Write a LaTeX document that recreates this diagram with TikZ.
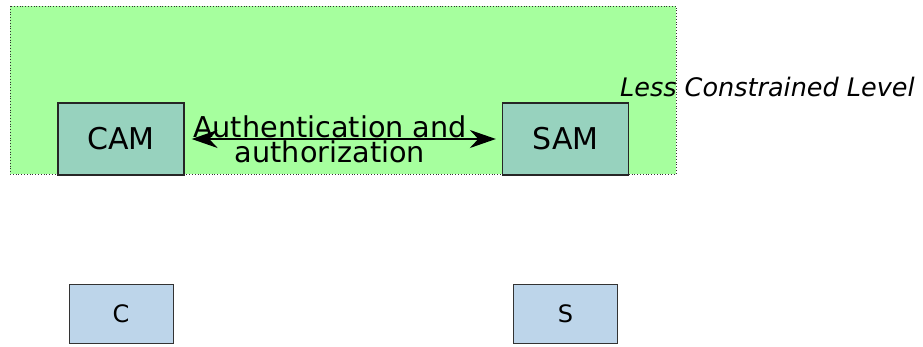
\documentclass[tikz,border=0pt]{standalone}
\usepackage{fontspec}
\setmainfont{DejaVu Sans}
\usetikzlibrary{arrows.meta}
\definecolor{levelgreen}{HTML}{A6FF9E}
\definecolor{amfill}{HTML}{97D2BE}
\definecolor{epfill}{HTML}{BDD5EA}
\begin{document}
\begin{tikzpicture}[x=1pt,y=-1pt,
  ambox/.style={draw=black!85,line width=1.3pt,fill=amfill,inner sep=0pt,
    minimum width=126pt,minimum height=72pt,font=\fontsize{30}{30}\selectfont},
  epbox/.style={draw=black!80,line width=1pt,fill=epfill,inner sep=0pt,
    minimum width=104pt,minimum height=59pt,font=\fontsize{24}{24}\selectfont}]
\useasboundingbox (0,0) rectangle (923,347);
% less constrained level area
\draw[fill=levelgreen,draw=black!80,dotted,line width=0.8pt] (10,6) rectangle (676,174);
\node[anchor=base west,inner sep=0pt,font=\fontsize{25.5}{25.5}\selectfont\itshape] (lvl) at (620,97) {Less Constrained Level};
% authorization managers
\node[ambox] (cam) at (121,139) {CAM};
\node[ambox] (sam) at (565.5,139) {SAM};
% endpoints
\node[epbox] (c) at (121,313.5) {C};
\node[epbox] (s) at (565.5,313.5) {S};
% authentication and authorization between managers
\draw[line width=1.8pt,{Stealth[length=26pt,width=18pt]}-{Stealth[length=26pt,width=18pt]}]
  ([xshift=7pt]cam.east) -- ([xshift=-6pt]sam.west);
\node[inner sep=0pt,align=center,font=\fontsize{28.7}{25}\selectfont] (lbl) at (330,139) {Authentication and\\authorization};
\end{tikzpicture}
\end{document}
